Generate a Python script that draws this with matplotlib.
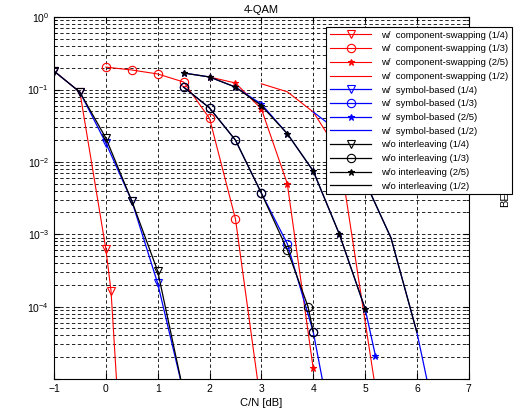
import numpy as np
import matplotlib
matplotlib.use("Agg")
import matplotlib.pyplot as plt
from matplotlib.ticker import LogLocator, NullFormatter

plt.rcParams['font.family'] = ['Liberation Sans', 'DejaVu Sans']
plt.rcParams['mathtext.fontset'] = 'custom'
plt.rcParams['mathtext.rm'] = 'Liberation Sans'

# ---- data (C/N in dB, BER) ----
# w/ component-swapping (red)
cs14_x = [-1, -0.5, 0, 0.1, 0.3]
cs14_y = [0.18, 0.092, 6.3e-4, 1.66e-4, 8e-7]
cs13_x = [0, 0.5, 1, 1.5, 2, 2.5, 3]
cs13_y = [0.204, 0.186, 0.164, 0.127, 0.040, 1.63e-3, 4e-6]
cs25_x = [2, 2.5, 3, 3.5, 4]
cs25_y = [0.149, 0.123, 0.054, 5.0e-3, 1.4e-5]
cs12_x = [3, 3.5, 4, 4.5, 5, 5.5]
cs12_y = [0.12, 0.093, 0.049, 0.0135, 6.3e-5, 3e-7]

# w/ symbol-based (blue)
sb14_x = [-1, -0.5, 0, 0.5, 1, 1.5]
sb14_y = [0.18, 0.092, 0.0183, 2.9e-3, 2.1e-4, 6.5e-6]
sb13_x = [1.5, 2, 2.5, 3, 3.5, 4, 4.5]
sb13_y = [0.108, 0.0556, 0.020, 3.7e-3, 7.4e-4, 4.5e-5, 6e-7]
sb25_x = [1.5, 2, 2.5, 3, 3.5, 4, 4.5, 5, 5.2]
sb25_y = [0.169, 0.149, 0.108, 0.063, 0.0245, 7.5e-3, 1.02e-3, 9.4e-5, 2.1e-5]
sb12_x = [4, 4.5, 5, 5.5, 6, 6.5]
sb12_y = [0.049, 0.026, 5.4e-3, 8.9e-4, 4.4e-5, 9e-7]

# w/o interleaving (black)
wo14_x = [-1, -0.5, 0, 0.5, 1, 1.5]
wo14_y = [0.18, 0.092, 0.0214, 2.9e-3, 3.1e-4, 6.5e-6]
wo13_x = [1.5, 2, 2.5, 3, 3.5, 3.9, 4]
wo13_y = [0.108, 0.0556, 0.020, 3.7e-3, 6.1e-4, 1.0e-4, 4.5e-5]
wo25_x = [1.5, 2, 2.5, 3, 3.5, 4, 4.5, 5]
wo25_y = [0.169, 0.149, 0.108, 0.060, 0.0245, 7.5e-3, 1.02e-3, 9.4e-5]
wo12_x = [4.5, 5, 5.5, 6]
wo12_y = [0.026, 5.4e-3, 8.9e-4, 4.4e-5]

labels_cs = ['w/  component-swapping (1/4)', 'w/  component-swapping (1/3)',
             'w/  component-swapping (2/5)', 'w/  component-swapping (1/2)']
labels_sb = ['w/  symbol-based (1/4)', 'w/  symbol-based (1/3)',
             'w/  symbol-based (2/5)', 'w/  symbol-based (1/2)']
labels_wo = ['w/o interleaving (1/4)', 'w/o interleaving (1/3)',
             'w/o interleaving (2/5)', 'w/o interleaving (1/2)']

fig = plt.figure(figsize=(5.14, 4.08), dpi=100)
ax = fig.add_axes([0.105, 0.071, 0.807, 0.887])

def draw(xs, ys, color, lw, label, marker, filled=False):
    ax.semilogy(xs, ys, color=color, lw=lw, marker=marker, ms=6 if marker != '*' else 5,
                mfc=color if filled else 'none', mec=color, mew=0.8, label=label)

groups = [
    ('red', 0.8, [(cs14_x, cs14_y), (cs13_x, cs13_y), (cs25_x, cs25_y), (cs12_x, cs12_y)], labels_cs),
    ('blue', 0.9, [(sb14_x, sb14_y), (sb13_x, sb13_y), (sb25_x, sb25_y), (sb12_x, sb12_y)], labels_sb),
    ('black', 0.9, [(wo14_x, wo14_y), (wo13_x, wo13_y), (wo25_x, wo25_y), (wo12_x, wo12_y)], labels_wo),
]
markers = ['v', 'o', '*', None]
for color, lw, series, labels in groups:
    for (xs, ys), lab, mk in zip(series, labels, markers):
        draw(xs, ys, color, lw, lab, mk if mk else 'None', filled=(mk == '*'))

ax.set_xlim(-1, 7)
ax.set_ylim(1e-5, 1)
ax.set_xticks(range(-1, 8))
ax.set_yticks([1e-5, 1e-4, 1e-3, 1e-2, 1e-1, 1])
ax.set_yticklabels(['', '$10^{-4}$', '$10^{-3}$', '$10^{-2}$', '$10^{-1}$', '$10^{0}$'])
ax.yaxis.set_minor_locator(LogLocator(base=10, subs=np.arange(2, 10), numticks=20))
ax.yaxis.set_minor_formatter(NullFormatter())
ax.tick_params(which='both', direction='in', labelsize=7.5, top=True, right=True)
ax.tick_params(which='major', length=4)
ax.tick_params(which='minor', length=2)

ax.grid(True, which='major', axis='both', color='black', ls=(0, (4, 3)), lw=0.6)
ax.grid(True, which='minor', axis='y', color='black', ls=(0, (4, 3)), lw=0.6)

ax.set_title('4-QAM', fontsize=8, pad=3)
ax.set_xlabel('C/N [dB]', fontsize=8, labelpad=3)
ax.text(0.982, 0.52, 'BER', rotation=90, fontsize=8, transform=fig.transFigure,
        ha='center', va='center', clip_on=False)

leg = ax.legend(loc='upper right', bbox_to_anchor=(0.996, 0.934),
                bbox_transform=fig.transFigure, fontsize=6.8, handlelength=4.4,
                handletextpad=1.0, labelspacing=0.5, borderpad=0.4, borderaxespad=0,
                fancybox=False, framealpha=1, edgecolor='black')
leg.get_frame().set_linewidth(0.8)
leg.set_zorder(10)

for sp in ax.spines.values():
    sp.set_linewidth(0.8)

fig.savefig('out.png', dpi=100)
